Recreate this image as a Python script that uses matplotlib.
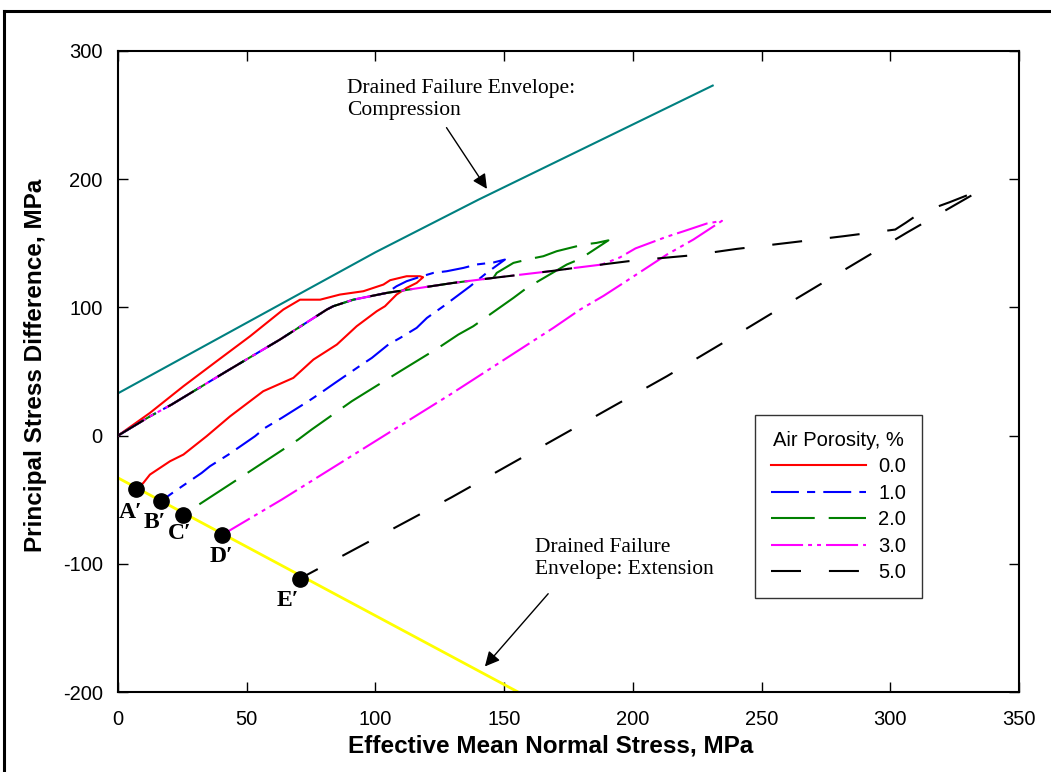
import matplotlib
matplotlib.use('Agg')
import matplotlib.pyplot as plt
import numpy as np
from matplotlib.lines import Line2D

plt.rcParams['axes.unicode_minus'] = False

# envelopes
comp_x = [0, 100, 140, 231]
comp_y = [33, 143, 184, 273]
ext_env_x = [0, 155.4]
ext_env_y = [-33, -200]

# failure points on the extension envelope
ext_x = [6.9, 16.6, 25.1, 40.4, 70.7]
ext_y = [-41.3, -51.2, -62.1, -77.5, -111.5]
ext_labels = ["A\u2032", "B\u2032", "C\u2032", "D\u2032", "E\u2032"]
ext_lab_x = [4.7, 14.4, 24.1, 40.3, 66.0]
ext_lab_y = [-60, -68, -76, -94, -129]

# common loading path (1.0 - 5.0 %)
load_x = [0, 12.4, 20.8, 42.2, 62.9, 81.1, 83.6, 91.4, 104.4, 117.3, 130.3, 145.8,
          156.8, 167.8, 177.5, 187.9, 198.2, 208.6, 222.9, 240.3, 261.0, 281.8, 301.9]
load_y = [0, 15, 24.2, 50.2, 74.9, 98.3, 100.9, 106, 111.3, 115.2, 119.1, 123,
          125.6, 128.2, 130.8, 133.4, 136, 138, 140.6, 145.6, 150.5, 155.5, 160.7]

# 0.0 %
red_x = [0, 12.4, 25.4, 38.3, 51.3, 64.2, 70.7, 78.5, 86.2, 95.3, 103.1, 105.7, 112.1,
         117.3, 118.5, 116, 112.1, 108.2, 103.7, 100.5, 92.7, 85, 75.9, 68.1, 56.4,
         43.5, 34.4, 25.4, 20.2, 12.4, 9.8, 6.9]
red_y = [0, 17.7, 38.5, 58, 77.5, 98.3, 106, 106, 110, 112.6, 117.8, 121.2, 124.3,
         124.3, 123.5, 119.1, 115.2, 110, 100.9, 97, 85.3, 71, 59.3, 45, 34.6,
         15, -0.5, -14.8, -20, -30.4, -37, -41.3]

# 1.0 % (after branching from load path at index 8)
blue_x = [108.2, 112.1, 117.3, 122.5, 127.7, 134.2, 139.4, 145.8, 150.3,
          143.2, 136.8, 126.4, 120, 116, 109.6, 105, 98.6, 94.7, 84.3, 77.8, 73.9,
          63.6, 57.1, 53.2, 42.9, 35.7, 32.5, 21.5, 16.6]
blue_y = [116.5, 120.4, 123.8, 126.9, 128.2, 130.8, 133.5, 135, 137.3,
          126.9, 116.5, 100.9, 91.8, 84, 76.2, 71, 60.6, 55.4, 41.1, 32, 26.8,
          13.8, 6, -0.5, -14.8, -23.9, -29.1, -44.2, -51.2]

# 2.0 % (after index 11)
green_x = [147.1, 153.6, 160, 165.2, 170.4, 180.8, 185.9, 190.5,
           179.5, 174.3, 158.8, 153.6, 138, 132.2, 124.4, 109.6, 96, 90.8, 75.2,
           70, 55.2, 49.3, 34.4, 25.1]
green_y = [126.9, 134.7, 137.8, 139.9, 143.8, 149, 150.3, 152.3,
           137.8, 133.4, 115.2, 107.4, 85.3, 78.8, 68.4, 50.2, 33.3, 26.8, 4.7,
           -3.1, -22.6, -30.4, -49.9, -62.1]

# 3.0 % (after index 15)
mag_x = [195, 201, 207, 213, 219.6, 228.7, 234.6,
         223.5, 213.2, 205.3, 196.3, 188.6, 179.5, 169.1, 129, 113.4, 63.6, 40.4]
mag_y = [139, 146, 150.5, 155, 159.3, 165.4, 167.5,
         152.9, 141.2, 130.8, 119, 109, 98.3, 84, 32, 12.5, -49.9, -77.5]

# 5.0 % (after full load path)
blk_x = [306, 311.6, 323, 335.5, 306.4, 285.6, 254.5, 233.9, 213.2, 192.4, 171.7, 129.6, 70.7]
blk_y = [166, 173.7, 182, 191.9, 158.3, 133.4, 96, 71, 46.3, 22.9, -0.5, -48.1, -111.5]

labels = ["0.0", "1.0", "2.0", "3.0", "5.0"]

lw = 1.5
fig = plt.figure(figsize=(10.51, 7.72), dpi=100)
ax = fig.add_axes([0.1123, 0.1036, 0.8573, 0.8304])

serif = ['Liberation Serif', 'DejaVu Serif']
sans = ['Liberation Sans', 'DejaVu Sans']

ax.plot(comp_x, comp_y, color='#008080', lw=lw, zorder=2)
ax.plot(ext_env_x, ext_env_y, color='#FFFF00', lw=2, zorder=2)

h_red, = ax.plot(red_x, red_y, color='red', lw=lw, zorder=3)
h_blue, = ax.plot(np.r_[load_x[:9], blue_x], np.r_[load_y[:9], blue_y], color='blue', lw=lw,
                  linestyle=(0, (13.4, 3.9, 3.9, 3.9)), zorder=3)
h_green, = ax.plot(np.r_[load_x[:12], green_x], np.r_[load_y[:12], green_y], color='green', lw=lw,
                   linestyle=(0, (21, 6.7)), zorder=3)
h_mag, = ax.plot(np.r_[load_x[:16], mag_x], np.r_[load_y[:16], mag_y], color='magenta', lw=lw,
                 linestyle=(0, (15.4, 2.4, 1.9, 2.4, 1.9, 2.4)), zorder=3)
h_blk, = ax.plot(np.r_[load_x, blk_x], np.r_[load_y, blk_y], color='black', lw=lw,
                 linestyle=(0, (14.4, 13.4)), zorder=3)

ax.plot(ext_x, ext_y, 'o', color='black', markersize=11, zorder=5)
for lx, ly, t in zip(ext_lab_x, ext_lab_y, ext_labels):
    ax.text(lx, ly, t, family=serif, fontweight='bold', fontsize=17, ha='center', va='center')

ax.text(89, 278, "Drained Failure Envelope:\nCompression", family=serif, fontsize=15.5,
        ha='left', va='top', linespacing=1.2)
ax.annotate('', xy=(143.9, 190.6), xytext=(127, 242),
            arrowprops=dict(arrowstyle='-|>', color='black', lw=1, mutation_scale=22))
ax.text(162, -80, "Drained Failure\nEnvelope: Extension", family=serif, fontsize=15.5,
        ha='left', va='top', linespacing=1.2)
ax.annotate('', xy=(141.8, -181.7), xytext=(167.8, -121.7),
            arrowprops=dict(arrowstyle='-|>', color='black', lw=1, mutation_scale=22))

ax.set_xlim(0, 350)
ax.set_ylim(-200, 300)
ax.set_xticks(np.arange(0, 351, 50))
ax.set_yticks(np.arange(-200, 301, 100))
ax.tick_params(direction='in', length=7, width=1, top=True, right=True, labelsize=14.5)
ax.tick_params(axis='x', pad=13)
ax.tick_params(axis='y', pad=11)
for lab in ax.get_xticklabels() + ax.get_yticklabels():
    lab.set_family(sans)
for sp in ax.spines.values():
    sp.set_linewidth(1.5)

ax.set_xlabel("Effective Mean Normal Stress, MPa", family=sans, fontweight='bold', fontsize=17.5)
ax.set_ylabel("Principal Stress Difference, MPa", family=sans, fontweight='bold', fontsize=17.5)
ax.xaxis.set_label_coords(0.48, -0.066)
ax.yaxis.set_label_coords(-0.079, 0.51)

leg = ax.legend([h_red, h_blue, h_green, h_mag, h_blk], labels, title="Air Porosity, %",
                loc='upper left', bbox_to_anchor=(0.696, 0.448), fancybox=False, framealpha=1,
                edgecolor='#333333', handlelength=4.7, labelspacing=0.37, borderpad=0.8,
                handletextpad=0.6, prop={'family': sans, 'size': 14.5})
leg.get_title().set_family(sans)
leg.get_title().set_fontsize(14.5)
leg.get_frame().set_linewidth(1)

# frame around figure
fig.add_artist(Line2D([0.0038, 0.0038], [0, 0.9858], color='black', lw=2.2, transform=fig.transFigure))
fig.add_artist(Line2D([0.0038, 1.0], [0.9858, 0.9858], color='black', lw=2.2, transform=fig.transFigure))

fig.savefig('out.png', dpi=100)
